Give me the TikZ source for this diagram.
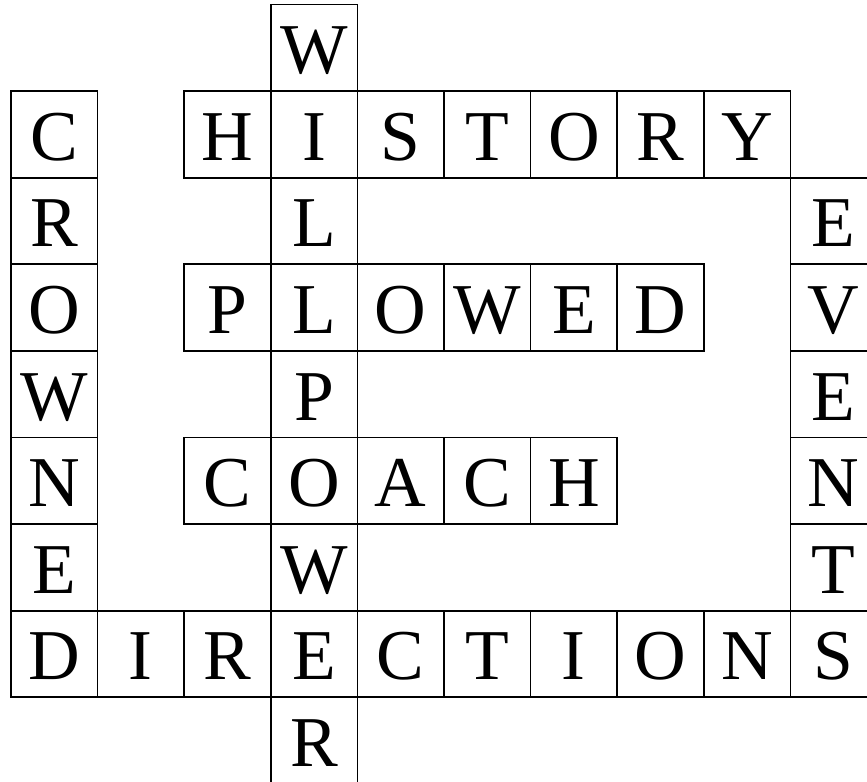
\documentclass[tikz,border=0pt]{standalone}
\usepackage{fontspec}
\setmainfont{Liberation Serif}
\begin{document}
\begin{tikzpicture}[x=1cm,y=1cm,
  cellbox/.style={draw=black,line width=0.55pt,minimum size=1cm,inner sep=0pt,
    font=\fontsize{23.5}{24}\selectfont,text height=0.6cm,text depth=0cm}]
\useasboundingbox (-0.127,0.052) rectangle (9.885,-8.978);
\foreach \c/\r/\l in {
  3/0/W,
  0/1/C, 2/1/H, 3/1/I, 4/1/S, 5/1/T, 6/1/O, 7/1/R, 8/1/Y,
  0/2/R, 3/2/L, 9/2/E,
  0/3/O, 2/3/P, 3/3/L, 4/3/O, 5/3/W, 6/3/E, 7/3/D, 9/3/V,
  0/4/W, 3/4/P, 9/4/E,
  0/5/N, 2/5/C, 3/5/O, 4/5/A, 5/5/C, 6/5/H, 9/5/N,
  0/6/E, 3/6/W, 9/6/T,
  0/7/D, 1/7/I, 2/7/R, 3/7/E, 4/7/C, 5/7/T, 6/7/I, 7/7/O, 8/7/N, 9/7/S,
  3/8/R}
  \node[cellbox] (cell-\c-\r) at (\c+0.5,-\r-0.5) {\l};
\end{tikzpicture}
\end{document}
